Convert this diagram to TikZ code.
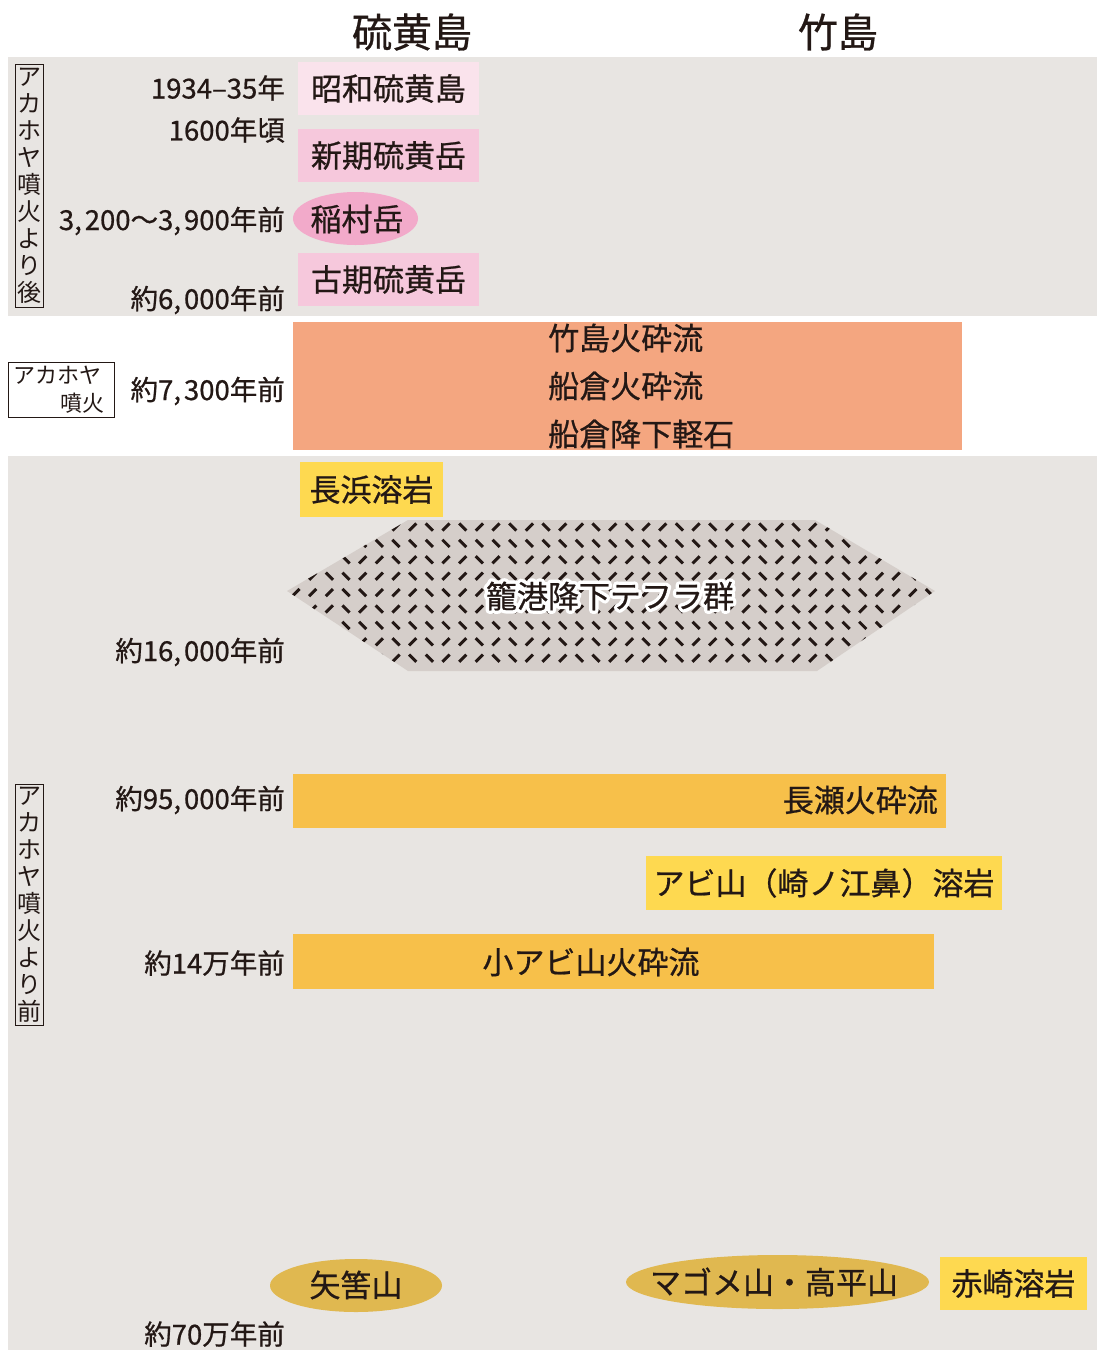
\documentclass[tikz,border=0pt]{standalone}
\usepackage{fontspec}
\setmainfont{Noto Sans CJK JP}
\newfontfamily\jpmed{Noto Sans CJK JP}[FakeBold=0.7]
\definecolor{ink}{HTML}{231815}
\definecolor{panel}{HTML}{E8E5E2}
\definecolor{pinkA}{HTML}{FAE3EC}
\definecolor{pinkB}{HTML}{F6C8DC}
\definecolor{pinkC}{HTML}{F2AACA}
\definecolor{salmon}{HTML}{F4A680}
\definecolor{barY}{HTML}{F7C04A}
\definecolor{yel}{HTML}{FED950}
\definecolor{ocher}{HTML}{E0B850}
\definecolor{hexfill}{HTML}{D5CECA}
\tikzset{
  head/.style={font=\jpmed\fontsize{40}{48}\selectfont},
  lab/.style={anchor=east, font=\jpmed\fontsize{27.5}{34}\selectfont},
  boxtxt/.style={font=\jpmed\fontsize{31}{37}\selectfont},
  halotxt/.style={font=\fontsize{31}{37}\selectfont},
  vlabel/.style={draw=ink, line width=0.9pt, align=center, minimum width=28, font=\fontsize{24}{27}\selectfont},
  hlabel/.style={font=\fontsize{22}{26}\selectfont},
  layer/.style={boxtxt, minimum height=53},
}
\newcommand{\halostart}{\special{pdf:literal direct 1 Tr 7 w 1 J 1 j}}
\newcommand{\haloend}{\special{pdf:literal direct 0 Tr 0.4 w 0 J 0 j}}
\begin{document}
\begin{tikzpicture}[x=1pt,y=-1pt, every node/.style={text=ink, inner sep=0pt}]
\useasboundingbox (0,0) rectangle (1097,1350);
\fill[white] (0,0) rectangle (1097,1350);
\fill[panel] (8,57) rectangle (1097,316);
\fill[panel] (8,456) rectangle (1097,1350);

% headers
\node[head] (hio) at (412,32) {硫黄島};
\node[head] (take) at (838,32) {竹島};

% vertical labels
\node[vlabel, minimum height=243] (vA) at (29,185.5) {ア\\カ\\ホ\\ヤ\\噴\\火\\よ\\り\\後};
\node[vlabel, minimum height=241] (vB) at (29,904.5) {ア\\カ\\ホ\\ヤ\\噴\\火\\よ\\り\\前};

% akahoya box
\node[draw=ink, line width=0.9pt, fill=white, minimum width=106, minimum height=55] (akbox) at (61,389.5) {};
\node[hlabel, anchor=west] (ak1) at (13,375) {アカホヤ};
\node[hlabel, anchor=east] (ak2) at (105,403) {噴火};

% age labels
\node[lab] (t1) at (285,88) {1934–35年};
\node[lab] (t2) at (285,130) {1600年頃};
\node[lab] (t3) at (285,221) {3,\kern3pt200〜3,\kern3pt900年前};
\node[lab] (t4) at (285,300) {約6,\kern3pt000年前};
\node[lab] (t5) at (285,391) {約7,\kern3pt300年前};
\node[lab] (t6) at (285,652) {約16,\kern3pt000年前};
\node[lab] (t7) at (285,800) {約95,\kern3pt000年前};
\node[lab] (t8) at (285,963) {約14万年前};
\node[lab] (t9) at (285,1334) {約70万年前};

% Iwo-jima layers
\node[layer, fill=pinkA, minimum width=181] (showa) at (388.5,88.5) {昭和硫黄島};
\node[layer, fill=pinkB, minimum width=181] (shinki) at (388.5,155.5) {新期硫黄岳};
\fill[pinkC] (355.5,218.5) ellipse [x radius=62.5pt, y radius=26.5pt];
\node[boxtxt] (inamura) at (357,219) {稲村岳};
\node[layer, fill=pinkB, minimum width=181] (koki) at (388.5,279.5) {古期硫黄岳};

% Akahoya eruption products
\node[fill=salmon, minimum width=669, minimum height=128] (akaho) at (627.5,386) {};
\node[boxtxt, anchor=west] (f1) at (548,338) {竹島火砕流};
\node[boxtxt, anchor=west] (f2) at (548,386) {船倉火砕流};
\node[boxtxt, anchor=west] (f3) at (548,434) {船倉降下軽石};

% Nagahama lava
\node[layer, fill=yel, minimum width=143, minimum height=55] (naga) at (371.5,489.5) {長浜溶岩};

% tephra hexagon
\fill[hexfill] (287,591) -- (408,520) -- (815,520) -- (935,591) -- (817,671) -- (408,671) -- cycle;
\begin{scope}
\clip (287,591) -- (408,520) -- (815,520) -- (935,591) -- (817,671) -- (408,671) -- cycle;
\foreach \i in {0,...,38}{
  \foreach \j in {0,...,8}{
    \pgfmathsetmacro\s{ifthenelse(mod(\i*7+\j*11+\i*\j*3,5)<2,1,-1)}
    \pgfmathsetmacro\cx{296+16.67*\i}
    \pgfmathsetmacro\cy{527+16.4*\j}
    \draw[ink, line width=3pt] (\cx-3.6,\cy-3.6*\s) -- (\cx+3.6,\cy+3.6*\s);
  }
}
\end{scope}
\node[halotxt, text=white] (kagohalo) at (610,596) {\halostart 籠港降下テフラ群\haloend};
\node[boxtxt] (kago) at (610,596) {籠港降下テフラ群};

% older layers
\node[fill=barY, minimum width=653, minimum height=54] (nagase) at (619.5,801) {};
\node[boxtxt, anchor=east] (nagaseT) at (938,800) {長瀬火砕流};
\node[layer, fill=yel, minimum width=356, minimum height=54] (abi) at (824,883) {アビ山（崎ノ江鼻）溶岩};
\node[fill=barY, minimum width=641, minimum height=55] (koabi) at (613.5,961.5) {};
\node[boxtxt] (koabiT) at (591,962) {小アビ山火砕流};

% oldest
\fill[ocher] (356,1285.5) ellipse [x radius=86pt, y radius=26.5pt];
\node[boxtxt] (yahazu) at (356,1285) {矢筈山};
\fill[ocher] (777.5,1282) ellipse [x radius=151.5pt, y radius=27pt];
\node[boxtxt] (magome) at (774,1282) {マゴメ山・高平山};
\node[layer, fill=yel, minimum width=147, minimum height=53] (akasaki) at (1013.5,1283.5) {赤崎溶岩};
\end{tikzpicture}
\end{document}
